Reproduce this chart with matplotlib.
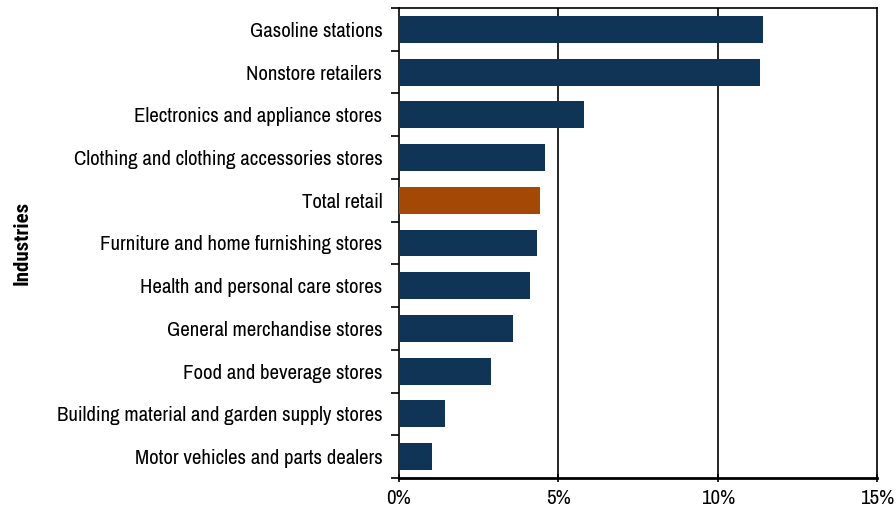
import matplotlib
matplotlib.use("Agg")
import matplotlib.pyplot as plt
from matplotlib.ticker import FuncFormatter, FixedLocator

plt.rcParams['font.family'] = ['Archivo Narrow', 'Roboto Condensed', 'DejaVu Sans']

industries = ["Gasoline stations", "Nonstore retailers", "Electronics and appliance stores",
              "Clothing and clothing accessories stores", "Total retail",
              "Furniture and home furnishing stores", "Health and personal care stores",
              "General merchandise stores", "Food and beverage stores",
              "Building material and garden supply stores", "Motor vehicles and parts dealers"]
growth = [11.43, 11.33, 5.80, 4.59, 4.43, 4.34, 4.12, 3.59, 2.90, 1.45, 1.04]
x_ticks = [0, 5, 10, 15]

navy = "#0f3456"
brown = "#a34805"
colors = [brown if n == "Total retail" else navy for n in industries]

fig = plt.figure(figsize=(8.96, 5.19), dpi=100)
ax = fig.add_axes([0.4453, 0.079, 0.5335, 0.9056])

ypos = list(range(len(industries)))[::-1]
ax.barh(ypos, growth, height=0.63, color=colors, zorder=3)

ax.set_xlim(0, 15)
ax.set_ylim(-0.5, len(industries) - 0.5)
ax.set_xticks(x_ticks)
ax.xaxis.set_major_formatter(FuncFormatter(lambda v, p: "%d%%" % v))
for v in x_ticks[1:-1]:
    ax.axvline(v, color="black", lw=1.2, zorder=2)

ax.set_yticks(ypos)
ax.set_yticklabels(industries)
ax.yaxis.set_minor_locator(FixedLocator([i + 0.5 for i in range(-1, len(industries))]))
ax.tick_params(axis="y", which="major", length=0, pad=12, labelsize=15)
ax.tick_params(axis="y", which="minor", length=6, width=1.2, direction="out")
ax.tick_params(axis="x", length=6, width=1.2, direction="inout", labelsize=15, pad=5)

for s in ax.spines.values():
    s.set_linewidth(1.2)
ax.spines["bottom"].set_linewidth(2)

ax.set_ylabel("Industries", fontsize=15, fontweight="bold",
              family=["Roboto Condensed", "DejaVu Sans"], labelpad=18)

fig.savefig("out.png", dpi=100)
